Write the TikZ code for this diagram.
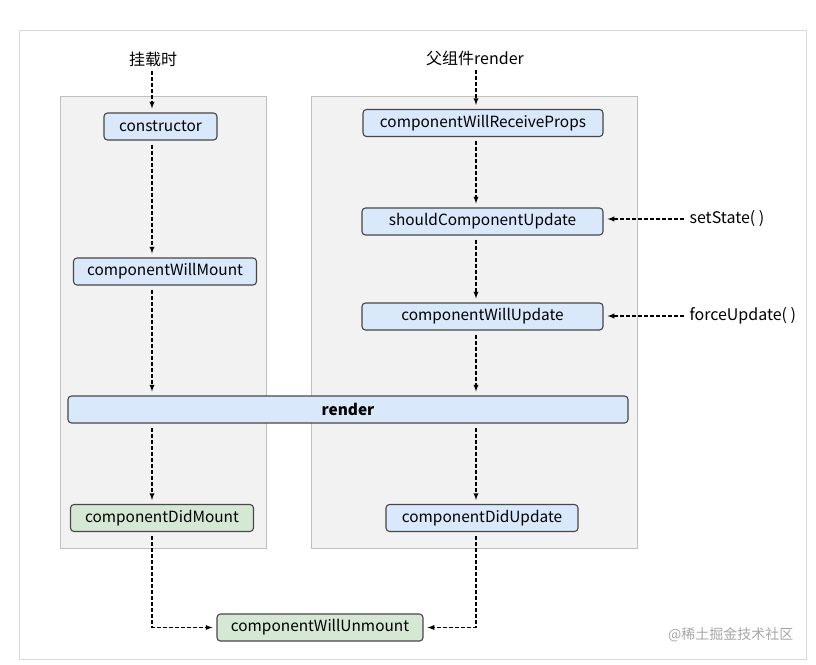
\documentclass[tikz,border=0pt]{standalone}
\usepackage{fontspec}
\setmainfont{Noto Sans CJK SC}
\usepackage{xcolor}

\definecolor{panelgray}{HTML}{F2F2F2}
\definecolor{panelline}{HTML}{BFBFBF}
\definecolor{boxblue}{HTML}{DAE8FC}
\definecolor{boxgreen}{HTML}{D5E8D4}
\definecolor{boxline}{HTML}{474747}

\tikzset{
    hook/.style={draw=boxline, line width=1.1pt, rounded corners=3.5pt, minimum height=27pt,
        inner sep=0pt, font=\fontsize{15.4}{18}\selectfont},
    bluebox/.style={hook, fill=boxblue},
    greenbox/.style={hook, fill=boxgreen},
    flow/.style={-latex, line width=1.3pt, dash pattern=on 4pt off 2pt,
        shorten <=4pt, shorten >=4pt},
    caption/.style={font=\fontsize{16}{19}\selectfont}
}

\begin{document}
\begin{tikzpicture}[x=1pt, y=-1pt]
        \useasboundingbox (0,0) rectangle (816,664);
        \draw[panelline!60, line width=0.8pt] (19,30) rectangle (806,659);

        % the two phases
        \draw[panelline, fill=panelgray, line width=0.8pt] (60,96) rectangle (266,548);
        \draw[panelline, fill=panelgray, line width=0.8pt] (311,96) rectangle (637,548);

        % columns of the arrows
        \coordinate (colL) at (152,0);
        \coordinate (colR) at (476,0);

        \node[caption] (mounting) at (153,59) {挂载时};
        \node[caption] (parent) at (475,58) {父组件render};

        \node[bluebox, minimum width=113pt] (constructor) at (160.5,126.5) {constructor};
        \node[bluebox, minimum width=183pt] (willMount) at (165,271.5) {componentWillMount};
        \node[bluebox, minimum width=560pt, font=\fontsize{15.4}{18}\selectfont\bfseries] (render) at (348,409.5) {render};
        \node[greenbox, minimum width=183pt] (didMount) at (162,518) {componentDidMount};

        \node[bluebox, minimum width=240pt] (receiveProps) at (483,123) {componentWillReceiveProps};
        \node[bluebox, minimum width=241pt] (shouldUpdate) at (482.5,221.5) {shouldComponentUpdate};
        \node[bluebox, minimum width=241pt] (willUpdate) at (482.5,316.5) {componentWillUpdate};
        \node[bluebox, minimum width=192pt] (didUpdate) at (482,518) {componentDidUpdate};

        \node[greenbox, minimum width=206pt] (willUnmount) at (320,627.5) {componentWillUnmount};

        \node[caption, anchor=west] (setState) at (686,219) {setState( )};
        \node[caption, anchor=west] (forceUpdate) at (686,316) {forceUpdate( )};

        % mounting
        \draw[flow, shorten <=1pt] (mounting.south -| colL) -- (constructor.north -| colL);
        \draw[flow] (constructor.south -| colL) -- (willMount.north -| colL);
        \draw[flow] (willMount.south -| colL) -- (render.north -| colL);
        \draw[flow] (render.south -| colL) -- (didMount.north -| colL);

        % updating
        \draw[flow, shorten <=1pt] (parent.south -| colR) -- (receiveProps.north -| colR);
        \draw[flow] (receiveProps.south -| colR) -- (shouldUpdate.north -| colR);
        \draw[flow] (shouldUpdate.south -| colR) -- (willUpdate.north -| colR);
        \draw[flow] (willUpdate.south -| colR) -- (render.north -| colR);
        \draw[flow] (render.south -| colR) -- (didUpdate.north -| colR);

        \draw[flow, shorten <=2pt] (setState.west) -- (shouldUpdate.east |- setState.west);
        \draw[flow, shorten <=2pt] (forceUpdate.west) -- (willUpdate.east |- forceUpdate.west);

        % unmounting
        \draw[flow] (didMount.south -| colL) |- (willUnmount.west);
        \draw[flow] (didUpdate.south -| colR) |- (willUnmount.east);

        \node[anchor=east, text=black!35, font=\fontsize{14}{16}\selectfont] (mark) at (797,635) {@稀土掘金技术社区};
    \end{tikzpicture}
\end{document}
